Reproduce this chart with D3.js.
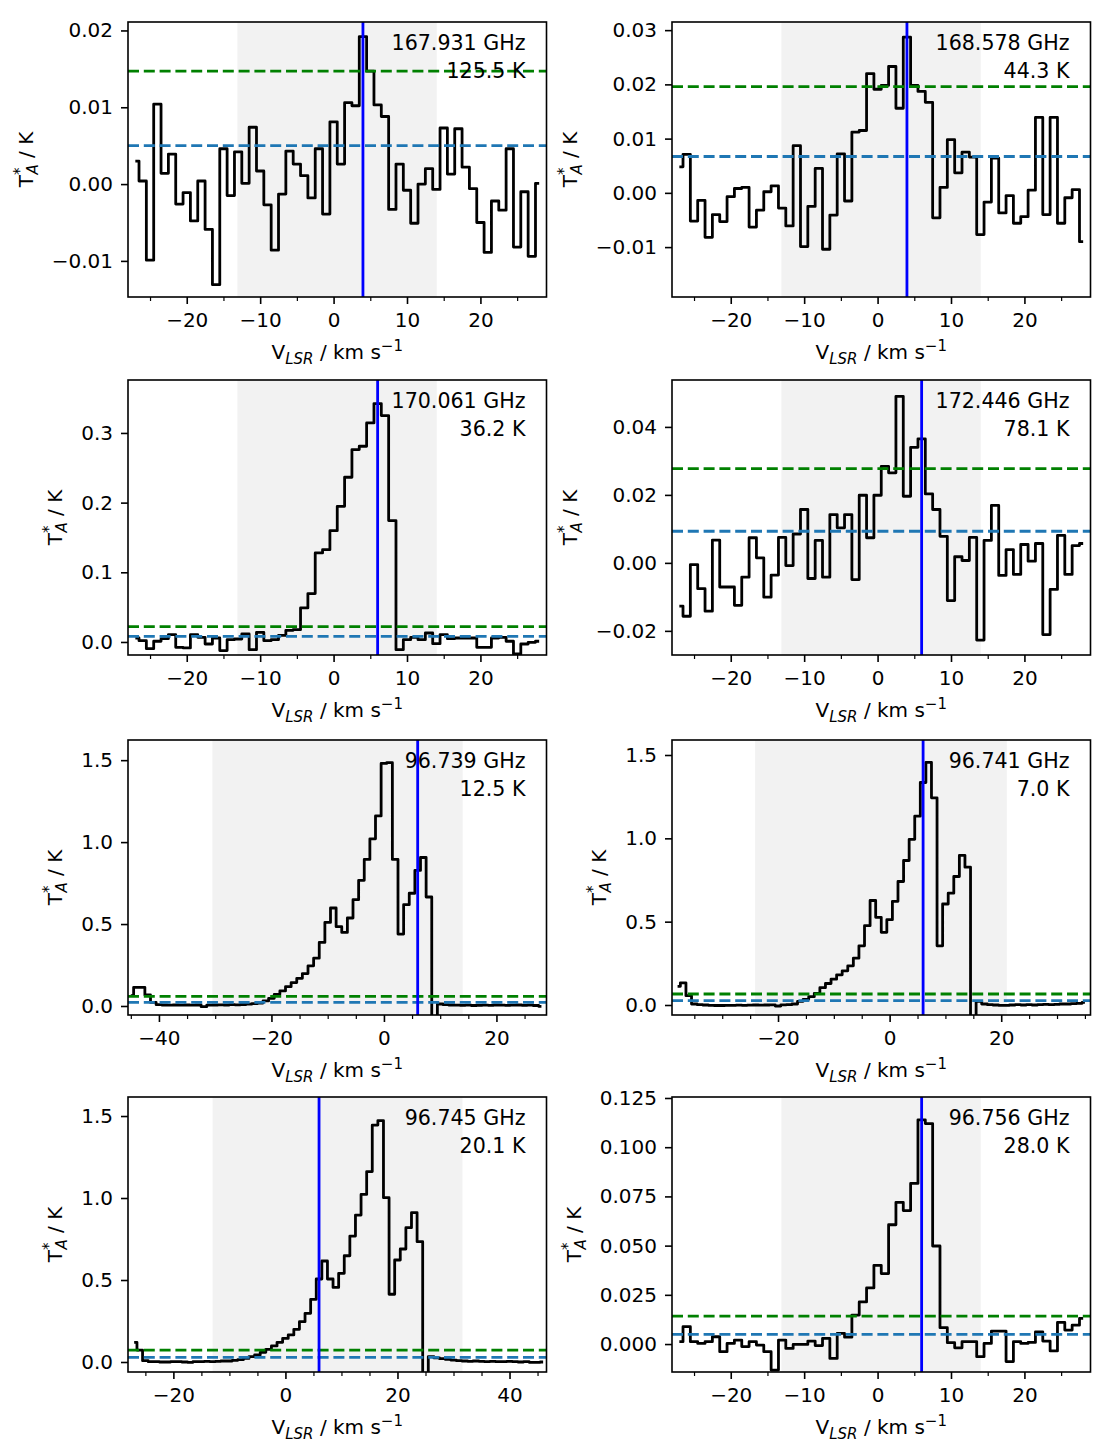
<!DOCTYPE html>
<html>
<head>
<meta charset="utf-8">
<script src="https://cdn.jsdelivr.net/npm/d3@7"></script>
<style>
body { margin: 0; background: #fff; }
text { font-family: "DejaVu Sans", sans-serif; font-size: 20px; fill: #000; }
</style>
</head>
<body>
<script>
// channel grids (km/s), 1 km/s channels
var vel_167931 = d3.range(-27, 29);
var vel_168578 = d3.range(-27, 29);
var vel_170061 = d3.range(-27, 29);
var vel_172446 = d3.range(-27, 29);
var vel_96739 = d3.range(-45, 29);
var vel_96741 = d3.range(-38, 36);
var vel_96745 = d3.range(-27, 47);
var vel_96756 = d3.range(-27, 29);

// antenna temperatures (K)
var t_167931 = [0.0030, 0.0004, -0.0099, 0.0104, 0.0014, 0.0039, -0.0026, -0.0011, -0.0048, 0.0004,
  -0.0059, -0.0131, 0.0046, -0.0015, 0.0042, 0.0001, 0.0074, 0.0017, -0.0027, -0.0086,
  -0.0013, 0.0043, 0.0026, 0.0011, -0.0018, 0.0046, -0.0039, 0.0081, 0.0026, 0.0106,
  0.0102, 0.0192, 0.0147, 0.0103, 0.0088, -0.0033, 0.0026, -0.0008, -0.0051, 0.0000,
  0.0020, -0.0007, 0.0073, 0.0013, 0.0072, 0.0022, -0.0006, -0.0050, -0.0089, -0.0022,
  -0.0034, 0.0046, -0.0082, -0.0010, -0.0094, 0.0001];
var t_168578 = [0.0048, 0.0071, -0.0052, -0.0014, -0.0082, -0.0040, -0.0053, -0.0007, 0.0008, 0.0010,
  -0.0063, -0.0032, 0.0002, 0.0013, -0.0028, -0.0061, 0.0087, -0.0099, -0.0025, 0.0045,
  -0.0104, -0.0041, 0.0072, -0.0015, 0.0112, 0.0115, 0.0220, 0.0191, 0.0198, 0.0233,
  0.0156, 0.0287, 0.0198, 0.0187, 0.0167, -0.0046, 0.0010, 0.0098, 0.0037, 0.0075,
  0.0066, -0.0077, -0.0017, 0.0064, -0.0037, -0.0005, -0.0056, -0.0044, 0.0005, 0.0139,
  -0.0040, 0.0139, -0.0056, -0.0009, 0.0006, -0.0090];
var t_170061 = [0.0057, 0.0019, -0.0096, 0.0010, 0.0048, 0.0105, -0.0077, -0.0086, 0.0105, 0.0067,
  -0.0029, 0.0057, -0.0124, 0.0033, 0.0043, 0.0115, -0.0110, 0.0139, 0.0019, 0.0033,
  0.0096, 0.0167, 0.0177, 0.0488, 0.0694, 0.1278, 0.1325, 0.1598, 0.1947, 0.2364,
  0.2761, 0.2809, 0.3144, 0.3421, 0.3249, 0.1742, -0.0110, 0.0033, 0.0067, 0.0033,
  0.0129, -0.0024, 0.0105, 0.0048, 0.0057, 0.0057, 0.0057, -0.0077, -0.0077, 0.0057,
  0.0067, 0.0010, -0.0172, -0.0029, -0.0005, 0.0010];
var t_172446 = [-0.0127, -0.0157, -0.0005, -0.0076, -0.0142, 0.0067, -0.0071, -0.0071, -0.0125, -0.0042,
  0.0074, 0.0015, -0.0101, -0.0036, 0.0075, -0.0008, 0.0085, 0.0157, -0.0046, 0.0066,
  -0.0042, 0.0142, 0.0103, 0.0142, -0.0049, 0.0199, 0.0074, 0.0199, 0.0284, 0.0265,
  0.0490, 0.0196, 0.0340, 0.0365, 0.0203, 0.0157, 0.0078, -0.0111, 0.0018, 0.0007,
  0.0075, -0.0227, 0.0066, 0.0169, -0.0037, 0.0039, -0.0034, 0.0054, 0.0005, 0.0057,
  -0.0211, -0.0078, 0.0081, -0.0034, 0.0051, 0.0057];
var t_96739 = [0.063, 0.114, 0.114, 0.067, 0.022, 0.008, 0.006, 0.005, 0.006, 0.005,
  0.006, 0.005, 0.006, -0.004, 0.005, 0.006, 0.007, 0.006, 0.008, 0.007,
  0.009, 0.011, 0.014, 0.018, 0.031, 0.047, 0.071, 0.092, 0.118, 0.143,
  0.169, 0.198, 0.245, 0.292, 0.388, 0.510, 0.598, 0.484, 0.449, 0.537,
  0.649, 0.767, 0.894, 1.020, 1.160, 1.480, 1.485, 0.894, 0.439, 0.618,
  0.688, 0.827, 0.906, 0.665, -0.400, 0.012, 0.008, 0.006, 0.005, 0.004,
  0.005, 0.003, 0.004, 0.005, 0.004, 0.006, 0.005, 0.004, 0.005, 0.006,
  0.004, 0.005, 0.003, -0.002];
var t_96741 = [0.112, 0.133, 0.056, 0.006, 0.002, 0.000, -0.002, -0.003, -0.003, -0.002,
  -0.002, -0.001, -0.002, -0.001, 0.000, -0.001, 0.000, 0.001, -0.006, 0.001,
  0.002, 0.006, 0.022, 0.034, 0.050, 0.070, 0.104, 0.129, 0.155, 0.181,
  0.205, 0.235, 0.281, 0.355, 0.476, 0.627, 0.526, 0.436, 0.512, 0.622,
  0.741, 0.867, 0.994, 1.133, 1.335, 1.456, 1.243, 0.355, 0.606, 0.671,
  0.771, 0.898, 0.827, -0.400, 0.022, 0.006, 0.002, 0.000, -0.002, -0.002,
  0.000, 0.002, 0.000, 0.002, 0.000, 0.002, 0.004, 0.002, 0.004, 0.006,
  0.006, 0.008, 0.010, 0.016];
var t_96745 = [0.120, 0.073, 0.008, 0.002, 0.002, 0.000, 0.000, 0.002, 0.002, 0.000,
  -0.002, 0.002, 0.002, 0.004, 0.002, 0.004, 0.006, 0.006, 0.010, 0.014,
  0.022, 0.033, 0.043, 0.059, 0.077, 0.098, 0.120, 0.144, 0.165, 0.199,
  0.246, 0.297, 0.382, 0.506, 0.616, 0.506, 0.455, 0.541, 0.648, 0.768,
  0.896, 1.022, 1.161, 1.445, 1.472, 1.002, 0.413, 0.622, 0.689, 0.819,
  0.911, 0.734, -0.400, 0.033, 0.025, 0.020, 0.016, 0.012, 0.008, 0.006,
  0.004, 0.006, 0.004, 0.002, 0.004, 0.002, 0.002, 0.004, 0.002, 0.000,
  0.002, -0.002, -0.002, 0.000];
var t_96756 = [0.0012, 0.0088, 0.0012, 0.0003, 0.0012, 0.0037, -0.0039, 0.0003, 0.0020, -0.0013,
  0.0012, -0.0005, -0.0039, -0.0132, 0.0020, -0.0022, -0.0002, -0.0002, 0.0015, -0.0008,
  0.0029, -0.0073, 0.0054, 0.0035, 0.0147, 0.0214, 0.0285, 0.0400, 0.0358, 0.0606,
  0.0720, 0.0678, 0.0816, 0.1139, 0.1120, 0.0498, 0.0083, 0.0007, -0.0019, 0.0012,
  0.0012, -0.0064, 0.0003, 0.0066, 0.0066, -0.0089, 0.0012, 0.0003, 0.0008, 0.0062,
  0.0015, -0.0035, 0.0110, 0.0071, 0.0096, 0.0130];

// line labels
var freqLabels = ["167.931 GHz", "168.578 GHz", "170.061 GHz", "172.446 GHz",
                  "96.739 GHz", "96.741 GHz", "96.745 GHz", "96.756 GHz"];
var eupLabels = ["125.5 K", "44.3 K", "36.2 K", "78.1 K", "12.5 K", "7.0 K", "20.1 K", "28.0 K"];

// noise levels (blue dashed) and detection threshold (green dashed)
var rmsLevels = [0.0050, 0.0067, 0.0081, 0.0093, 0.022, 0.026, 0.028, 0.0049];
var threshLevels = [0.0147, 0.0196, 0.0220, 0.0277, 0.059, 0.066, 0.073, 0.0142];
// source velocity (blue vertical)
var vlsrValues = [4, 4, 6, 6, 6, 6, 6, 6];
// shaded integration windows
var windows = [[-13.1, 14.05], [-13.1, 14.05], [-13.1, 14.05], [-13.1, 14.05],
               [-30.5, 14.0], [-24.1, 21.0], [-13.0, 31.6], [-13.1, 14.05]];

// axis ranges and ticks
var xDomains = [[-28, 29], [-28, 29], [-28, 29], [-28, 29],
                [-45.5, 28.9], [-39, 36], [-28.1, 46.6], [-28, 29]];
var yDomains = [[-0.0147, 0.0211], [-0.0192, 0.0315], [-0.0187, 0.376], [-0.0271, 0.0538],
                [-0.055, 1.623], [-0.06, 1.59], [-0.061, 1.616], [-0.0142, 0.1255]];
var xTicksNarrow = [-20, -10, 0, 10, 20];
var xTicks = [xTicksNarrow, xTicksNarrow, xTicksNarrow, xTicksNarrow,
              [-40, -20, 0, 20], [-20, 0, 20], [-20, 0, 20, 40], xTicksNarrow];
var yTicks = [[-0.01, 0, 0.01, 0.02], [-0.01, 0, 0.01, 0.02, 0.03], [0, 0.1, 0.2, 0.3],
              [-0.02, 0, 0.02, 0.04], [0, 0.5, 1.0, 1.5], [0, 0.5, 1.0, 1.5], [0, 0.5, 1.0, 1.5],
              [0, 0.025, 0.05, 0.075, 0.1, 0.125]];
var yFormats = [".2f", ".2f", ".1f", ".2f", ".1f", ".1f", ".1f", ".3f"];

var spectra = [
  [vel_167931, t_167931], [vel_168578, t_168578], [vel_170061, t_170061], [vel_172446, t_172446],
  [vel_96739, t_96739], [vel_96741, t_96741], [vel_96745, t_96745], [vel_96756, t_96756]
];

//layout
var colLeft = [128, 672];
var rowTop = [22, 380, 740, 1097];
var width = 418.5, height = 275;

var svg = d3.select("body").append("svg")
    .attr("width", 1113)
    .attr("height", 1454);

svg.append("rect").attr("width", 1113).attr("height", 1454).attr("fill", "#fff");

spectra.forEach(function(s, i) {
    var g = svg.append("g")
        .attr("transform", "translate(" + colLeft[i % 2] + "," + rowTop[Math.floor(i / 2)] + ")");

    var x = d3.scaleLinear().domain(xDomains[i]).range([0, width]);
    var y = d3.scaleLinear().domain(yDomains[i]).range([height, 0]);

    g.append("clipPath").attr("id", "clip" + i)
        .append("rect").attr("width", width).attr("height", height);
    var plot = g.append("g").attr("clip-path", "url(#clip" + i + ")");

    // shaded window
    plot.append("rect")
        .attr("x", x(windows[i][0]))
        .attr("width", x(windows[i][1]) - x(windows[i][0]))
        .attr("y", 0)
        .attr("height", height)
        .attr("fill", "#f2f2f2");

    // spectrum (steps-mid)
    var line = d3.line()
        .curve(d3.curveStep)
        .x(function(d) { return x(d[0]); })
        .y(function(d) { return y(d[1]); });
    plot.append("path")
        .datum(d3.zip(s[0], s[1]))
        .attr("d", line)
        .attr("fill", "none")
        .attr("stroke", "#000")
        .attr("stroke-width", 2.8)
        .attr("stroke-linejoin", "round");

    // horizontal levels
    [[rmsLevels[i], "#1f77b4"], [threshLevels[i], "#008000"]].forEach(function(h) {
        plot.append("line")
            .attr("x1", 0).attr("x2", width)
            .attr("y1", y(h[0])).attr("y2", y(h[0]))
            .attr("stroke", h[1])
            .attr("stroke-width", 2.8)
            .attr("stroke-dasharray", "11,4.8");
    });

    // source velocity
    plot.append("line")
        .attr("x1", x(vlsrValues[i])).attr("x2", x(vlsrValues[i]))
        .attr("y1", 0).attr("y2", height)
        .attr("stroke", "#0000ff")
        .attr("stroke-width", 2.8);

    // annotations
    g.append("text").attr("x", width - 21).attr("y", 28)
        .attr("text-anchor", "end").style("font-size", "20.6px").text(freqLabels[i]);
    g.append("text").attr("x", width - 21).attr("y", 56)
        .attr("text-anchor", "end").style("font-size", "20.6px").text(eupLabels[i]);

    // x axis, major + minor ticks
    var major = xTicks[i];
    var minor = d3.range(Math.ceil(xDomains[i][0] / 5) * 5, xDomains[i][1], 5)
        .filter(function(v) { return major.indexOf(v) < 0; });

    var xa = g.append("g")
        .attr("transform", "translate(0," + height + ")")
        .call(d3.axisBottom(x).tickValues(major).tickSize(7).tickPadding(9).tickFormat(d3.format("d")));
    var xm = g.append("g")
        .attr("transform", "translate(0," + height + ")")
        .call(d3.axisBottom(x).tickValues(minor).tickSize(4).tickFormat(""));

    var ya = g.append("g")
        .call(d3.axisLeft(y).tickValues(yTicks[i]).tickSize(7).tickPadding(8).tickFormat(d3.format(yFormats[i])));

    [xa, xm, ya].forEach(function(a) {
        a.select(".domain").remove();
        a.selectAll("line").attr("stroke", "#000").attr("stroke-width", 1.6);
        a.selectAll("text").style("font-size", "20px").attr("fill", "#000")
            .style("font-family", "'DejaVu Sans', sans-serif");
    });
    xm.selectAll("line").attr("stroke-width", 1.2);

    // frame
    g.append("rect")
        .attr("width", width).attr("height", height)
        .attr("fill", "none").attr("stroke", "#000").attr("stroke-width", 1.6);

    // x label
    var xl = g.append("text")
        .attr("x", width / 2).attr("y", height + 62)
        .attr("text-anchor", "middle");
    xl.append("tspan").text("V");
    xl.append("tspan").attr("dy", 5).style("font-size", "15px").style("font-style", "italic").text("LSR");
    xl.append("tspan").attr("dy", -5).text(" / km s");
    xl.append("tspan").attr("dy", -8).style("font-size", "15px").text("\u22121");

    // y label, placed just left of the tick labels
    var bb = ya.node().getBBox();
    var lx = bb.x - 19;
    var yl = g.append("text")
        .attr("transform", "translate(" + lx + "," + (height / 2) + ") rotate(-90)")
        .attr("text-anchor", "middle");
    yl.append("tspan").text("T");
    yl.append("tspan").attr("dy", -8).style("font-size", "15px").text("*");
    yl.append("tspan").attr("dx", -7).attr("dy", 13).style("font-size", "15px").style("font-style", "italic").text("A");
    yl.append("tspan").attr("dy", -5).text(" / K");
});
</script>
</body>
</html>
